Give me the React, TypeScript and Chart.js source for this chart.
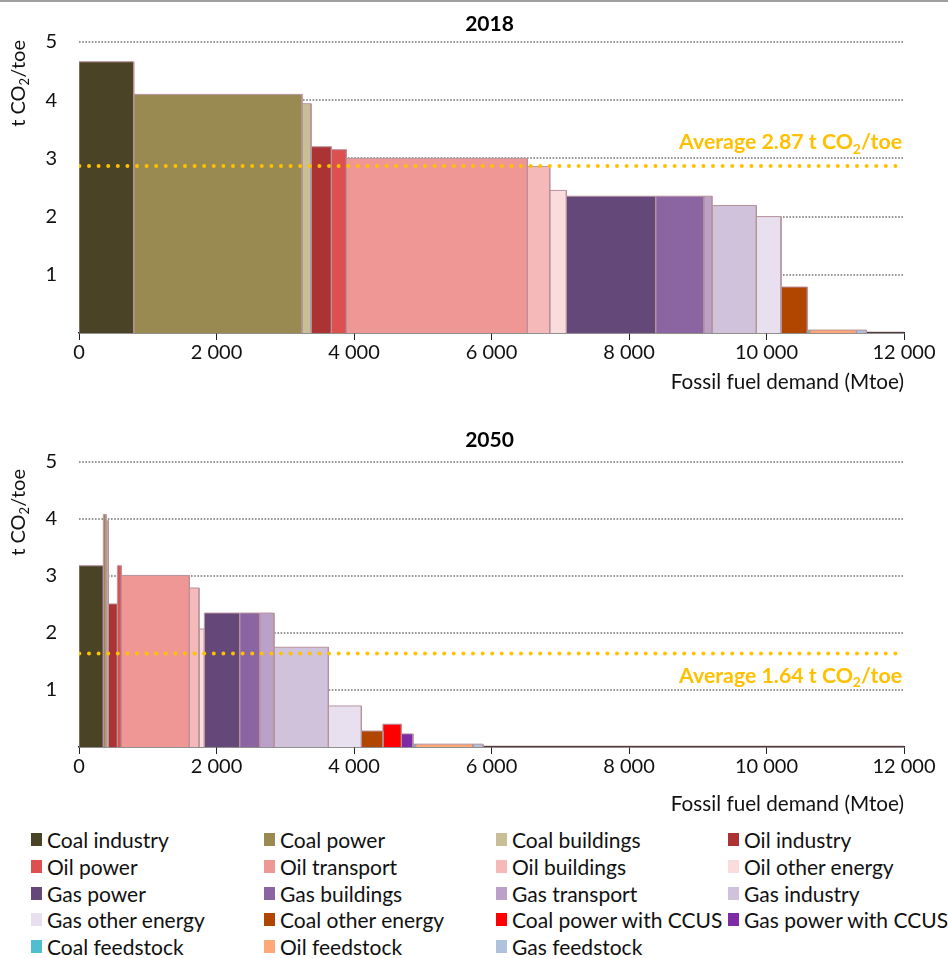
import React, { useEffect, useRef } from "react";
import { Chart, registerables } from "chart.js";

Chart.register(...registerables);

// ---------- DATA ----------
const categories = [
  "Coal industry",
  "Coal power",
  "Coal buildings",
  "Oil industry",
  "Oil power",
  "Oil transport",
  "Oil buildings",
  "Oil other energy",
  "Gas power",
  "Gas buildings",
  "Gas transport",
  "Gas industry",
  "Gas other energy",
  "Coal other energy",
  "Coal power with CCUS",
  "Gas power with CCUS",
  "Coal feedstock",
  "Oil feedstock",
  "Gas feedstock",
];

const colors = [
  "#4A4325",
  "#988A50",
  "#C9BF96",
  "#AB3333",
  "#DC5050",
  "#EE9795",
  "#F5B9B9",
  "#FADCDC",
  "#65487A",
  "#8B64A2",
  "#BBA1C8",
  "#D0C2DA",
  "#E8E0EE",
  "#B04600",
  "#FF0000",
  "#7E2BA6",
  "#4FBFCF",
  "#FFA877",
  "#AEC2DC",
];

// Fossil fuel demand (Mtoe), bar widths
const demand2018 = [796, 2448, 131, 296, 218, 2633, 325, 242, 1299, 703, 116, 645, 359, 383, 0, 0, 35, 679, 145];
// CO2 intensity (t CO2/toe), bar heights
const intensity2018 = [4.66, 4.1, 3.94, 3.2, 3.15, 3.0, 2.86, 2.45, 2.35, 2.35, 2.35, 2.19, 2.0, 0.79, 0, 0, 0.05, 0.05, 0.05];

const demand2050 = [354, 39, 34, 131, 58, 989, 140, 78, 514, 291, 208, 791, 480, 314, 268, 169, 39, 833, 145];
const intensity2050 = [3.18, 4.08, 3.97, 2.51, 3.18, 3.01, 2.79, 2.07, 2.35, 2.35, 2.35, 1.75, 0.72, 0.28, 0.4, 0.23, 0.05, 0.05, 0.05];

// zero-emission remainder of the axis (thin strip along the baseline)
const tailDemand2018 = 547;
const tailDemand2050 = 6125;

const average2018 = 2.87;
const average2050 = 1.64;

const xTickValues = [0, 2000, 4000, 6000, 8000, 10000, 12000];
const yTickValues = [0, 1, 2, 3, 4, 5];

// ---------- STYLE ----------
const FONT = "Lato, 'Open Sans', sans-serif";
const BAR_BORDER = "#B8939E";
const TAIL_COLOR = "#5B3D3D";
const GOLD = "#FFC000";

function fmtThousands(v: number) {
  return String(v).replace(/\B(?=(\d{3})+(?!\d))/g, " ");
}

function buildDatasets(demand: number[], intensity: number[], tail: number, avg: number) {
  const ds: any[] = [];
  let x = 0;
  demand.forEach((w, i) => {
    if (w > 0) {
      const h = intensity[i];
      ds.push({
        type: "line",
        label: categories[i],
        data: [
          { x: x, y: 0 },
          { x: x, y: h },
          { x: x + w, y: h },
          { x: x + w, y: 0 },
        ],
        backgroundColor: colors[i],
        borderColor: BAR_BORDER,
        borderWidth: 1,
        fill: "origin",
        pointRadius: 0,
        tension: 0,
        order: 1,
      });
    }
    x += w;
  });
  if (tail > 0) {
    ds.push({
      type: "line",
      label: "Other",
      data: [
        { x: x, y: 0 },
        { x: x, y: 0.012 },
        { x: x + tail, y: 0.012 },
        { x: x + tail, y: 0 },
      ],
      backgroundColor: TAIL_COLOR,
      borderColor: TAIL_COLOR,
      borderWidth: 1,
      fill: "origin",
      pointRadius: 0,
      tension: 0,
      order: 1,
    });
  }
  ds.push({
    type: "line",
    label: "Average",
    data: [
      { x: 0, y: avg },
      { x: 12000, y: avg },
    ],
    borderColor: GOLD,
    borderWidth: 4,
    borderDash: [0, 9.6],
    borderDashOffset: 9.2,
    borderCapStyle: "round",
    fill: false,
    pointRadius: 0,
    order: -1,
  });
  return ds;
}

function drawCO2Text(
  ctx: CanvasRenderingContext2D,
  endX: number,
  baseY: number,
  pre: string,
  post: string,
  size: number,
  weight: string,
  color: string
) {
  const main = `${weight} ${size}px ${FONT}`;
  const small = `${weight} ${Math.round(size * 0.66)}px ${FONT}`;
  ctx.font = main;
  const w1 = ctx.measureText(pre).width;
  const w3 = ctx.measureText(post).width;
  ctx.font = small;
  const w2 = ctx.measureText("2").width;
  let x = endX - (w1 + w2 + w3);
  ctx.textAlign = "left";
  ctx.textBaseline = "alphabetic";
  ctx.fillStyle = color;
  ctx.font = main;
  ctx.fillText(pre, x, baseY);
  x += w1;
  ctx.font = small;
  ctx.fillText("2", x, baseY + size * 0.2);
  x += w2;
  ctx.font = main;
  ctx.fillText(post, x, baseY);
}

const panelTextPlugin = {
  id: "panelText",
  afterDraw(chart: any, _args: any, opts: any) {
    const { ctx, chartArea, scales } = chart;
    ctx.save();
    // panel title
    ctx.font = `bold ${opts.titleSize}px ${FONT}`;
    ctx.fillStyle = "#000";
    ctx.textAlign = "center";
    ctx.textBaseline = "alphabetic";
    ctx.fillText(opts.title, (chartArea.left + chartArea.right) / 2 - 2, opts.titleBaseY);

    // y-axis title (rotated)
    ctx.save();
    ctx.translate(opts.yTitleBaseX, opts.yTitleTopY);
    ctx.rotate(-Math.PI / 2);
    drawCO2Text(ctx, 0, 0, "t CO", "/toe", opts.axisSize, "normal", "#111");
    ctx.restore();

    // average label
    const yAvg = scales.y.getPixelForValue(opts.avg);
    drawCO2Text(
      ctx,
      chartArea.right - 2,
      yAvg + opts.avgLabelOffset,
      `Average ${opts.avg.toFixed(2)} t CO`,
      "/toe",
      opts.avgSize,
      "bold",
      GOLD
    );
    ctx.restore();
  },
};

function makeConfig(datasets: any[], p: any) {
  return {
    type: "line",
    data: { datasets },
    options: {
      responsive: false,
      animation: false,
      events: [],
      layout: { padding: { left: 0, right: 44, top: p.top, bottom: 0 } },
      plugins: {
        legend: { display: false },
        tooltip: { enabled: false },
        panelText: p.text,
      },
      scales: {
        x: {
          type: "linear",
          min: 0,
          max: 12000,
          afterBuildTicks: (s: any) => {
            s.ticks = xTickValues.map((v) => ({ value: v }));
          },
          afterFit: (s: any) => {
            s.height = p.xHeight;
          },
          ticks: {
            callback: (v: any) => fmtThousands(Number(v)),
            font: { family: FONT, size: 20 },
            color: "#111",
            padding: 1,
            maxRotation: 0,
            autoSkip: false,
          },
          grid: {
            display: true,
            drawOnChartArea: false,
            drawTicks: true,
            tickLength: 7,
            tickColor: "#222",
            tickWidth: 1,
            color: "#222",
          },
          border: { display: true, color: "#222", width: 1.5 },
          title: {
            display: true,
            text: "Fossil fuel demand (Mtoe)",
            align: "end",
            color: "#111",
            font: { family: FONT, size: 20.7 },
            padding: { top: 0, bottom: p.xTitlePad },
          },
        },
        y: {
          type: "linear",
          min: 0,
          max: 5,
          afterBuildTicks: (s: any) => {
            s.ticks = yTickValues.map((v) => ({ value: v }));
          },
          afterFit: (s: any) => {
            s.width = 79;
          },
          ticks: {
            callback: (v: any) => (Number(v) === 0 ? "" : String(v)),
            font: { family: FONT, size: 20 },
            color: "#111",
            padding: 22,
          },
          grid: {
            color: (c: any) => (c.tick && c.tick.value === 0 ? "rgba(0,0,0,0)" : "#959595"),
            lineWidth: 2,
            drawTicks: false,
          },
          border: { display: false, dash: [1.6, 1.6] },
        },
      },
    },
    plugins: [panelTextPlugin],
  };
}

function PanelChart(props: { config: any; top: number; height: number }) {
  const ref = useRef<HTMLCanvasElement | null>(null);
  useEffect(() => {
    if (!ref.current) return;
    const chart = new Chart(ref.current, props.config);
    return () => chart.destroy();
  }, []);
  return (
    <canvas
      ref={ref}
      width={948}
      height={props.height}
      style={{ position: "absolute", left: 0, top: props.top, width: 948, height: props.height }}
    />
  );
}

const legendCols = [31, 264, 496, 728];
const legendRowCenters = [839.5, 866.2, 893, 919.7, 946.4];

export default function App() {
  useEffect(() => {
    document.body.style.margin = "0";
    document.body.style.background = "#fff";
  }, []);

  const config2018 = makeConfig(buildDatasets(demand2018, intensity2018, tailDemand2018, average2018), {
    top: 42,
    xHeight: 72,
    xTitlePad: 10,
    text: {
      title: "2018",
      titleBaseY: 31,
      titleSize: 21,
      yTitleBaseX: 25,
      yTitleTopY: 40,
      axisSize: 20,
      avg: average2018,
      avgLabelOffset: -16.7,
      avgSize: 21.3,
    },
  });
  const config2050 = makeConfig(buildDatasets(demand2050, intensity2050, tailDemand2050, average2050), {
    top: 42,
    xHeight: 73,
    xTitlePad: 3,
    text: {
      title: "2050",
      titleBaseY: 26.7,
      titleSize: 21,
      yTitleBaseX: 25,
      yTitleTopY: 49,
      axisSize: 20,
      avg: average2050,
      avgLabelOffset: 29.7,
      avgSize: 21.3,
    },
  });

  return (
    <div style={{ position: "relative", width: 948, height: 958, background: "#fff", overflow: "hidden" }}>
      <div style={{ position: "absolute", left: 0, top: 0, width: 948, height: 2, background: "#A0A0A0" }} />
      <PanelChart config={config2018} top={0} height={405} />
      <PanelChart config={config2050} top={420} height={400} />
      {categories.map((name, i) => {
        const col = i % 4;
        const row = Math.floor(i / 4);
        const cy = legendRowCenters[row];
        return (
          <div
            key={name}
            style={{
              position: "absolute",
              left: legendCols[col],
              top: cy - 13,
              height: 26,
              display: "flex",
              alignItems: "center",
              whiteSpace: "nowrap",
              fontFamily: FONT,
              fontSize: 21,
              color: "#111",
            }}
          >
            <span
              style={{
                display: "inline-block",
                width: 11,
                height: 13,
                background: colors[i],
                marginRight: 5,
              }}
            />
            <span>{name}</span>
          </div>
        );
      })}
    </div>
  );
}
